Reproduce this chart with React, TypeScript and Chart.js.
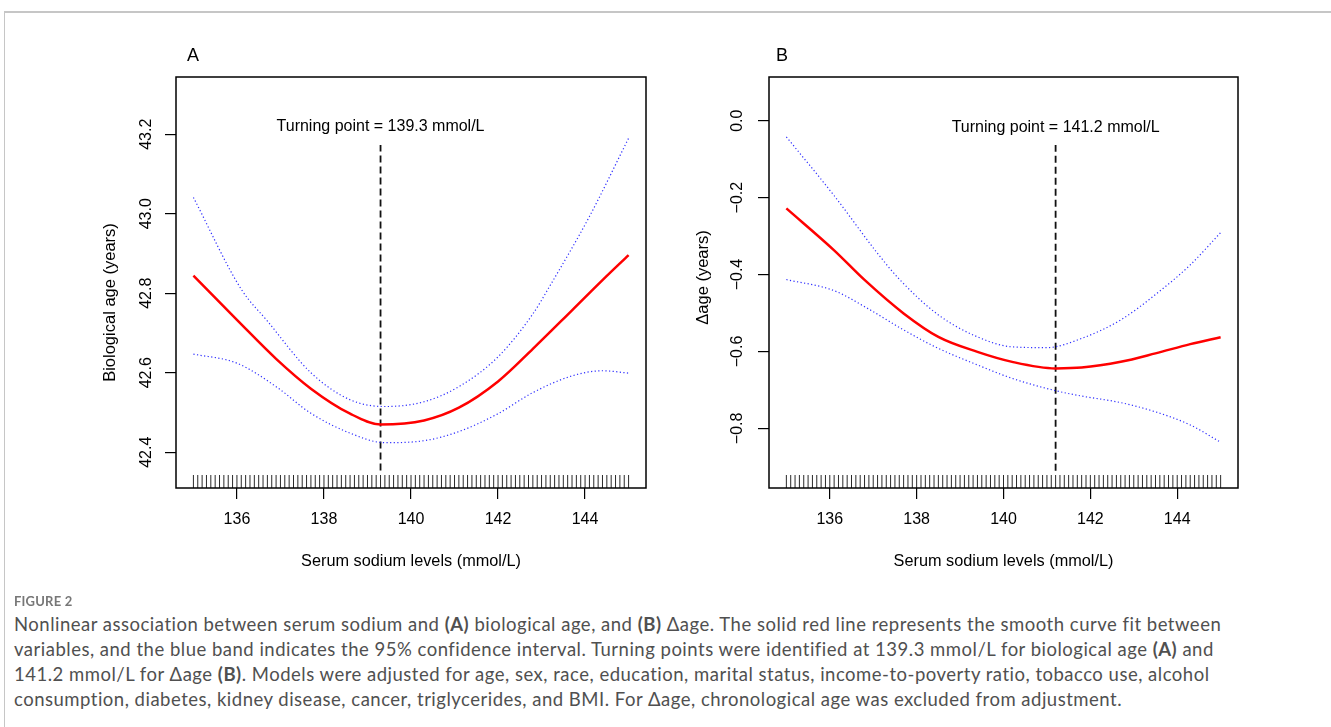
import React, { useEffect, useRef } from "react";
import { Chart, registerables } from "chart.js";

Chart.register(...registerables);

const FONT = "'Liberation Sans', Arial, Helvetica, sans-serif";
Chart.defaults.font.family = FONT;

// ---------- data ----------
const xTicks = [136, 138, 140, 142, 144];
const aYTicks = [42.4, 42.6, 42.8, 43.0, 43.2];
const bYTicks = [-0.8, -0.6, -0.4, -0.2, 0.0];

// Panel A: biological age
const aFitX = [135.0, 136.0, 136.9, 137.7, 138.6, 139.3, 140.3, 141.1, 142.0, 142.8, 143.7, 144.4, 145.0];
const aFitY = [42.844, 42.733, 42.635, 42.560, 42.497, 42.470, 42.480, 42.512, 42.578, 42.660, 42.757, 42.833, 42.896];
const aUpX = [135.0, 136.1, 136.7, 137.7, 138.6, 139.4, 140.3, 141.1, 142.0, 142.8, 143.2, 144.1, 145.0];
const aUpY = [43.041, 42.810, 42.730, 42.600, 42.532, 42.515, 42.527, 42.565, 42.640, 42.748, 42.820, 42.993, 43.190];
const aLoX = [135.0, 136.0, 136.9, 137.7, 138.6, 139.4, 140.3, 141.1, 142.0, 142.8, 143.7, 144.4, 145.0];
const aLoY = [42.647, 42.624, 42.565, 42.498, 42.448, 42.424, 42.429, 42.452, 42.497, 42.550, 42.592, 42.605, 42.599];

// Panel B: delta age
const bFitX = [135.0, 136.1, 136.8, 137.7, 138.5, 139.4, 140.2, 141.2, 141.8, 142.7, 143.5, 144.3, 145.0];
const bFitY = [-0.228, -0.337, -0.414, -0.501, -0.562, -0.601, -0.627, -0.644, -0.642, -0.627, -0.605, -0.581, -0.563];
const bUpX = [135.0, 136.1, 137.1, 137.6, 138.5, 139.4, 140.2, 141.0, 141.8, 142.7, 143.5, 144.3, 145.0];
const bUpY = [-0.042, -0.195, -0.345, -0.412, -0.505, -0.562, -0.588, -0.590, -0.566, -0.518, -0.452, -0.375, -0.291];
const bLoX = [135.0, 136.1, 136.9, 137.7, 138.5, 139.4, 140.2, 141.2, 141.8, 142.7, 143.5, 144.3, 145.0];
const bLoY = [-0.413, -0.442, -0.490, -0.544, -0.592, -0.635, -0.670, -0.702, -0.716, -0.733, -0.757, -0.791, -0.836];

// turning points (x) and the extent of the dashed marker (y)
const aTurnX = 139.3;
const aTurnY = [42.354, 43.173];
const bTurnX = 141.2;
const bTurnY = [-0.91, -0.063];

// rug of observed sodium values
const rugValues = [
  135.0, 135.1, 135.2, 135.3, 135.4, 135.5, 135.6, 135.7, 135.8, 135.9,
  136.0, 136.1, 136.2, 136.3, 136.4, 136.5, 136.6, 136.7, 136.8, 136.9,
  137.0, 137.1, 137.2, 137.3, 137.4, 137.5, 137.6, 137.7, 137.8, 137.9,
  138.0, 138.1, 138.2, 138.3, 138.4, 138.5, 138.6, 138.7, 138.8, 138.9,
  139.0, 139.1, 139.2, 139.3, 139.4, 139.5, 139.6, 139.7, 139.8, 139.9,
  140.0, 140.1, 140.2, 140.3, 140.4, 140.5, 140.6, 140.7, 140.8, 140.9,
  141.0, 141.1, 141.2, 141.3, 141.4, 141.5, 141.6, 141.7, 141.8, 141.9,
  142.0, 142.1, 142.2, 142.3, 142.4, 142.5, 142.6, 142.7, 142.8, 142.9,
  143.0, 143.1, 143.2, 143.3, 143.4, 143.5, 143.6, 143.7, 143.8, 143.9,
  144.0, 144.1, 144.2, 144.3, 144.4, 144.5, 144.6, 144.7, 144.8, 144.9,
  145.0,
];

const xTitle = "Serum sodium levels (mmol/L)";

// ---------- helpers ----------
const pts = (xs: number[], ys: number[]) => xs.map((x, i) => ({ x, y: ys[i] }));
const fmtTick = (v: number) => (v < 0 ? "\u2212" + Math.abs(v).toFixed(1) : v.toFixed(1));

type PanelCfg = {
  letter: string;
  yTitle: string;
  turnText: string;
  turnX: number;
  turnY: number[];
  textY: number;
  fitX: number[]; fitY: number[];
  upX: number[]; upY: number[];
  loX: number[]; loY: number[];
  yTicks: number[];
  yMin: number; yMax: number;
  yAxisWidth: number;
  padRight: number;
  yTickPad: number;
  yTitleDY: number;
  letterDX: number;
};

function makeChart(canvas: HTMLCanvasElement, p: PanelCfg) {
  const decor = {
    id: "decor",
    afterDraw(chart: any) {
      const { ctx, chartArea: a, scales } = chart;
      const xs = scales.x;
      const ys = scales.y;
      ctx.save();
      // rug
      ctx.strokeStyle = "#2a2a2a";
      ctx.lineWidth = 1;
      ctx.beginPath();
      rugValues.forEach((v) => {
        const px = xs.getPixelForValue(v);
        ctx.moveTo(px, a.bottom);
        ctx.lineTo(px, a.bottom - 13);
      });
      ctx.stroke();
      // box
      ctx.strokeStyle = "#000";
      ctx.lineWidth = 1.5;
      ctx.strokeRect(a.left, a.top, a.right - a.left, a.bottom - a.top);
      // texts
      ctx.fillStyle = "#000";
      ctx.textAlign = "center";
      ctx.textBaseline = "middle";
      ctx.font = `16px ${FONT}`;
      ctx.fillText(p.turnText, xs.getPixelForValue(p.turnX), ys.getPixelForValue(p.textY));
      ctx.font = `16.3px ${FONT}`;
      ctx.fillText(xTitle, (a.left + a.right) / 2, a.bottom + 74);
      ctx.save();
      ctx.translate(a.left - 66, (a.top + a.bottom) / 2 + p.yTitleDY);
      ctx.rotate(-Math.PI / 2);
      ctx.font = `16.5px ${FONT}`;
      ctx.fillText(p.yTitle, 0, 0);
      ctx.restore();
      ctx.font = `18px ${FONT}`;
      ctx.fillText(p.letter, a.left + p.letterDX, a.top - 21);
      ctx.restore();
    },
  };

  return new Chart(canvas, {
    type: "scatter",
    data: {
      datasets: [
        {
          data: pts(p.upX, p.upY),
          showLine: true,
          borderColor: "rgb(45,45,255)",
          borderWidth: 1.2,
          borderDash: [1.2, 2.4],
          pointRadius: 0,
          cubicInterpolationMode: "monotone",
        },
        {
          data: pts(p.loX, p.loY),
          showLine: true,
          borderColor: "rgb(45,45,255)",
          borderWidth: 1.2,
          borderDash: [1.2, 2.4],
          pointRadius: 0,
          cubicInterpolationMode: "monotone",
        },
        {
          data: pts(p.fitX, p.fitY),
          showLine: true,
          borderColor: "#ff0000",
          borderWidth: 2.5,
          pointRadius: 0,
          cubicInterpolationMode: "monotone",
        },
        {
          data: [
            { x: p.turnX, y: p.turnY[0] },
            { x: p.turnX, y: p.turnY[1] },
          ],
          showLine: true,
          borderColor: "#111",
          borderWidth: 1.8,
          borderDash: [7, 4],
          pointRadius: 0,
          tension: 0,
        },
      ],
    },
    options: {
      animation: false,
      responsive: false,
      events: [],
      layout: { padding: { top: 77, right: p.padRight, bottom: 0, left: 0 } },
      plugins: { legend: { display: false }, tooltip: { enabled: false } },
      scales: {
        x: {
          type: "linear",
          min: 134.6,
          max: 145.4,
          afterBuildTicks: (s: any) => {
            s.ticks = xTicks.map((value) => ({ value }));
          },
          afterFit: (s: any) => {
            s.height = 112;
          },
          grid: { drawOnChartArea: false, drawTicks: true, tickLength: 11, color: "#000", lineWidth: 1.2 },
          border: { display: false },
          ticks: {
            color: "#000",
            font: { size: 16, family: FONT },
            padding: 11,
            maxRotation: 0,
            autoSkip: false,
            callback: (v: any) => String(v),
          },
        },
        y: {
          type: "linear",
          min: p.yMin,
          max: p.yMax,
          afterBuildTicks: (s: any) => {
            s.ticks = p.yTicks.map((value) => ({ value }));
          },
          afterFit: (s: any) => {
            s.width = p.yAxisWidth;
          },
          grid: { drawOnChartArea: false, drawTicks: true, tickLength: 11, color: "#000", lineWidth: 1.2 },
          border: { display: false },
          ticks: {
            color: "#000",
            font: { size: 16, family: FONT },
            padding: p.yTickPad,
            minRotation: 90,
            maxRotation: 90,
            crossAlign: "center",
            autoSkip: false,
            callback: (v: any) => fmtTick(Number(v)),
          },
        },
      },
    },
    plugins: [decor],
  } as any);
}

const panelA: PanelCfg = {
  letter: "A",
  yTitle: "Biological age (years)",
  turnText: "Turning point = 139.3 mmol/L",
  turnX: aTurnX,
  turnY: aTurnY,
  textY: 43.218,
  fitX: aFitX, fitY: aFitY,
  upX: aUpX, upY: aUpY,
  loX: aLoX, loY: aLoY,
  yTicks: aYTicks,
  yMin: 42.31, yMax: 43.344,
  yAxisWidth: 176,
  padRight: 19,
  yTickPad: 3,
  yTitleDY: 20,
  letterDX: 17,
};

const panelB: PanelCfg = {
  letter: "B",
  yTitle: "\u0394age (years)",
  turnText: "Turning point = 141.2 mmol/L",
  turnX: bTurnX,
  turnY: bTurnY,
  textY: -0.017,
  fitX: bFitX, fitY: bFitY,
  upX: bUpX, upY: bUpY,
  loX: bLoX, loY: bLoY,
  yTicks: bYTicks,
  yMin: -0.955, yMax: 0.1136,
  yAxisWidth: 104,
  padRight: 93,
  yTickPad: 5,
  yTitleDY: -5,
  letterDX: 13,
};

function Panel({ cfg, left, width }: { cfg: PanelCfg; left: number; width: number }) {
  const ref = useRef<HTMLCanvasElement | null>(null);
  useEffect(() => {
    if (!ref.current) return;
    const c = makeChart(ref.current, cfg);
    return () => c.destroy();
  }, [cfg]);
  return (
    <canvas
      ref={ref}
      width={width}
      height={600}
      style={{ position: "absolute", left, top: 0, width, height: 600 }}
    />
  );
}

const captionLines: React.ReactNode[] = [
  <>Nonlinear association between serum sodium and <b>(A)</b> biological age, and <b>(B)</b> {"\u0394"}age. The solid red line represents the smooth curve fit between</>,
  <>variables, and the blue band indicates the 95% confidence interval. Turning points were identified at 139.3 mmol/L for biological age <b>(A)</b> and</>,
  <>141.2 mmol/L for {"\u0394"}age <b>(B)</b>. Models were adjusted for age, sex, race, education, marital status, income-to-poverty ratio, tobacco use, alcohol</>,
  <>consumption, diabetes, kidney disease, cancer, triglycerides, and BMI. For {"\u0394"}age, chronological age was excluded from adjustment.</>,
];

export default function App() {
  return (
    <div style={{ position: "absolute", left: 0, top: 0, width: 1331, height: 727, overflow: "hidden", background: "#fff" }}>
      <div
        style={{
          position: "absolute",
          left: 4,
          top: 11,
          width: 1340,
          height: 730,
          borderTop: "2px solid #c6c6c6",
          borderLeft: "1px solid #c6c6c6",
        }}
      />
      <Panel cfg={panelA} left={0} width={665} />
      <Panel cfg={panelB} left={665} width={666} />
      <div
        style={{
          position: "absolute",
          left: 14,
          top: 593,
          fontFamily: "Lato, 'Open Sans', sans-serif",
          fontSize: 13,
          lineHeight: "16px",
          color: "#777",
          fontWeight: 700,
          letterSpacing: 0.2,
        }}
      >
        FIGURE 2
      </div>
      <div
        style={{
          position: "absolute",
          left: 14,
          top: 612,
          fontFamily: "Lato, 'Open Sans', sans-serif",
          fontSize: 18.5,
          letterSpacing: 0.5,
          lineHeight: "25px",
          color: "#505050",
          whiteSpace: "nowrap",
        }}
      >
        {captionLines.map((l, i) => (
          <div key={i}>{l}</div>
        ))}
      </div>
    </div>
  );
}
